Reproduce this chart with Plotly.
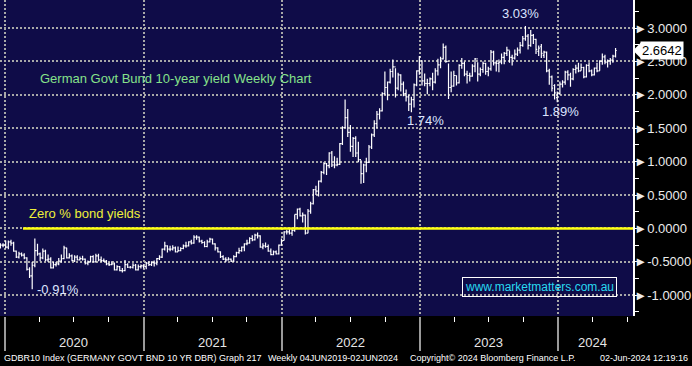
import pandas as pd
import plotly.graph_objects as go

# ---------------- data (weekly OHLC, GDBR10, week ending Fridays from 20-Dec-2019) ----------------
FIRST_WEEK = "2019-12-20"

OPEN = [
    -0.27, -0.25,
    # 2020
    -0.25, -0.28, -0.20, -0.22, -0.34, -0.43, -0.38, -0.40, -0.44, -0.61, -0.71, -0.55, -0.33,
    -0.38, -0.44, -0.34, -0.47, -0.46, -0.59, -0.54, -0.53, -0.49, -0.45, -0.29, -0.44, -0.41,
    -0.48, -0.43, -0.47, -0.45, -0.46, -0.52, -0.50, -0.42, -0.50, -0.41, -0.47, -0.48, -0.49,
    -0.53, -0.54, -0.53, -0.62, -0.57, -0.63, -0.63, -0.54, -0.58, -0.58, -0.55, -0.62, -0.57, -0.56,
    # 2021
    -0.57, -0.52, -0.54, -0.51, -0.52, -0.45, -0.43, -0.31, -0.26, -0.31, -0.31, -0.29, -0.35,
    -0.33, -0.30, -0.26, -0.26, -0.20, -0.22, -0.13, -0.13, -0.19, -0.21, -0.27, -0.20, -0.16,
    -0.23, -0.29, -0.35, -0.42, -0.46, -0.47, -0.46, -0.49, -0.42, -0.36, -0.33, -0.28, -0.23,
    -0.22, -0.15, -0.17, -0.10, -0.11, -0.28, -0.26, -0.27, -0.34, -0.39, -0.35, -0.38, -0.25,
    # 2022
    -0.18, -0.05, -0.05, -0.07, -0.03, 0.21, 0.29, 0.19, 0.20, -0.07, 0.26, 0.37, 0.58,
    0.56, 0.71, 0.84, 0.97, 0.94, 1.13, 0.95, 0.95, 0.96, 1.27, 1.51, 1.66, 1.44,
    1.23, 1.35, 1.13, 1.03, 0.82, 0.95, 0.99, 1.22, 1.40, 1.57, 1.71, 1.76, 2.02,
    2.11, 2.19, 2.35, 2.42, 2.10, 2.30, 2.16, 2.02, 1.97, 1.86, 1.93, 2.15, 2.36,
    # 2023
    2.51, 2.21, 2.17, 2.17, 2.24, 2.19, 2.36, 2.45, 2.54, 2.71, 2.50, 2.11, 2.13,
    2.29, 2.18, 2.44, 2.47, 2.31, 2.29, 2.28, 2.43, 2.54, 2.31, 2.38, 2.47, 2.35,
    2.39, 2.64, 2.48, 2.47, 2.49, 2.56, 2.62, 2.67, 2.56, 2.55, 2.61, 2.67, 2.74,
    2.84, 2.88, 2.74, 2.89, 2.83, 2.65, 2.72, 2.59, 2.64, 2.36, 2.27, 2.14, 1.96,
    # 2024
    2.02, 2.16, 2.19, 2.34, 2.30, 2.24, 2.38, 2.40, 2.36, 2.41, 2.27, 2.44, 2.36,
    2.30, 2.40, 2.36, 2.50, 2.57, 2.49, 2.51, 2.52, 2.58,
]

HIGH = [
    -0.22, -0.22,
    # 2020
    -0.18, -0.18, -0.17, -0.20, -0.33, -0.35, -0.36, -0.37, -0.43, -0.58, -0.50, -0.15, -0.23,
    -0.36, -0.30, -0.32, -0.39, -0.43, -0.50, -0.50, -0.44, -0.39, -0.26, -0.29, -0.37, -0.39,
    -0.40, -0.40, -0.42, -0.41, -0.45, -0.48, -0.41, -0.40, -0.38, -0.38, -0.42, -0.45, -0.47,
    -0.51, -0.49, -0.51, -0.55, -0.56, -0.59, -0.47, -0.52, -0.56, -0.52, -0.53, -0.54, -0.54, -0.54,
    # 2021
    -0.50, -0.49, -0.49, -0.48, -0.44, -0.40, -0.30, -0.20, -0.25, -0.26, -0.25, -0.27, -0.27,
    -0.28, -0.24, -0.20, -0.19, -0.17, -0.10, -0.10, -0.12, -0.17, -0.19, -0.17, -0.14, -0.15,
    -0.22, -0.28, -0.34, -0.40, -0.43, -0.43, -0.45, -0.40, -0.35, -0.29, -0.27, -0.22, -0.17,
    -0.13, -0.10, -0.08, -0.06, -0.10, -0.22, -0.21, -0.24, -0.30, -0.33, -0.33, -0.24, -0.15,
    # 2022
    -0.04, -0.02, 0.00, 0.00, 0.21, 0.30, 0.31, 0.24, 0.21, 0.29, 0.40, 0.59, 0.64,
    0.72, 0.86, 0.99, 0.98, 1.14, 1.16, 1.08, 1.06, 1.28, 1.53, 1.93, 1.79, 1.55,
    1.37, 1.38, 1.30, 1.02, 0.97, 1.06, 1.25, 1.42, 1.62, 1.76, 1.80, 2.04, 2.35,
    2.20, 2.39, 2.53, 2.40, 2.33, 2.31, 2.20, 2.08, 2.00, 1.97, 2.17, 2.37, 2.58,
    # 2023
    2.52, 2.32, 2.24, 2.26, 2.33, 2.40, 2.54, 2.57, 2.77, 2.74, 2.47, 2.35, 2.36,
    2.29, 2.46, 2.55, 2.50, 2.36, 2.33, 2.46, 2.55, 2.49, 2.41, 2.50, 2.48, 2.42,
    2.67, 2.66, 2.51, 2.53, 2.62, 2.64, 2.72, 2.66, 2.60, 2.68, 2.71, 2.79, 2.88,
    3.03, 2.91, 2.97, 2.91, 2.84, 2.74, 2.76, 2.66, 2.65, 2.39, 2.29, 2.16, 2.05,
    # 2024
    2.20, 2.22, 2.36, 2.37, 2.33, 2.40, 2.45, 2.48, 2.47, 2.42, 2.46, 2.49, 2.38,
    2.41, 2.48, 2.52, 2.62, 2.60, 2.53, 2.55, 2.60, 2.70,
]

LOW = [
    -0.30, -0.28,
    # 2020
    -0.30, -0.31, -0.26, -0.35, -0.44, -0.45, -0.42, -0.46, -0.63, -0.74, -0.91, -0.58, -0.41,
    -0.49, -0.46, -0.49, -0.50, -0.60, -0.60, -0.57, -0.55, -0.51, -0.46, -0.45, -0.45, -0.49,
    -0.50, -0.48, -0.48, -0.48, -0.54, -0.55, -0.51, -0.51, -0.51, -0.49, -0.50, -0.50, -0.55,
    -0.56, -0.55, -0.63, -0.63, -0.64, -0.66, -0.64, -0.59, -0.60, -0.60, -0.63, -0.63, -0.60, -0.60,
    # 2021
    -0.61, -0.56, -0.56, -0.57, -0.55, -0.47, -0.44, -0.33, -0.36, -0.34, -0.33, -0.36, -0.35,
    -0.34, -0.31, -0.29, -0.27, -0.24, -0.23, -0.17, -0.21, -0.23, -0.28, -0.28, -0.21, -0.24,
    -0.33, -0.36, -0.44, -0.47, -0.50, -0.48, -0.50, -0.50, -0.43, -0.38, -0.35, -0.34, -0.25,
    -0.23, -0.19, -0.18, -0.15, -0.29, -0.31, -0.29, -0.35, -0.40, -0.40, -0.39, -0.39, -0.26,
    # 2022
    -0.18, -0.09, -0.09, -0.11, -0.05, 0.14, 0.18, 0.09, -0.09, -0.07, 0.22, 0.36, 0.50,
    0.48, 0.69, 0.81, 0.80, 0.90, 0.92, 0.90, 0.93, 0.95, 1.25, 1.50, 1.37, 1.15,
    1.07, 1.07, 0.99, 0.67, 0.68, 0.84, 0.98, 1.19, 1.37, 1.50, 1.63, 1.75, 2.00,
    1.92, 2.17, 2.26, 1.96, 2.07, 2.05, 1.98, 1.90, 1.76, 1.74, 1.81, 2.13, 2.30,
    # 2023
    2.14, 2.13, 2.01, 2.13, 2.07, 2.17, 2.29, 2.40, 2.53, 2.48, 1.94, 2.04, 2.12,
    2.14, 2.17, 2.39, 2.28, 2.17, 2.20, 2.27, 2.34, 2.20, 2.28, 2.33, 2.30, 2.28,
    2.36, 2.44, 2.35, 2.34, 2.46, 2.46, 2.58, 2.48, 2.44, 2.53, 2.58, 2.62, 2.72,
    2.81, 2.68, 2.72, 2.76, 2.61, 2.58, 2.55, 2.55, 2.34, 2.15, 2.05, 1.93, 1.89,
    # 2024
    2.00, 2.11, 2.15, 2.22, 2.12, 2.22, 2.32, 2.34, 2.36, 2.25, 2.26, 2.34, 2.28,
    2.29, 2.34, 2.36, 2.45, 2.46, 2.41, 2.45, 2.48, 2.56,
]

CLOSE = [
    -0.25, -0.25,
    # 2020
    -0.28, -0.20, -0.22, -0.34, -0.43, -0.38, -0.40, -0.44, -0.61, -0.71, -0.55, -0.33, -0.38,
    -0.44, -0.34, -0.47, -0.46, -0.59, -0.54, -0.53, -0.49, -0.45, -0.29, -0.44, -0.41, -0.48,
    -0.43, -0.47, -0.45, -0.46, -0.52, -0.50, -0.42, -0.50, -0.41, -0.47, -0.48, -0.49, -0.53,
    -0.54, -0.53, -0.62, -0.57, -0.63, -0.63, -0.54, -0.58, -0.58, -0.55, -0.62, -0.57, -0.56, -0.57,
    # 2021
    -0.52, -0.54, -0.51, -0.52, -0.45, -0.43, -0.31, -0.26, -0.31, -0.31, -0.29, -0.35, -0.33,
    -0.30, -0.26, -0.26, -0.20, -0.22, -0.13, -0.13, -0.19, -0.21, -0.27, -0.20, -0.16, -0.23,
    -0.29, -0.35, -0.42, -0.46, -0.47, -0.46, -0.49, -0.42, -0.36, -0.33, -0.28, -0.23, -0.22,
    -0.15, -0.17, -0.10, -0.11, -0.28, -0.26, -0.27, -0.34, -0.39, -0.35, -0.38, -0.25, -0.18,
    # 2022
    -0.05, -0.05, -0.07, -0.03, 0.21, 0.29, 0.19, 0.20, -0.07, 0.26, 0.37, 0.58, 0.56,
    0.71, 0.84, 0.97, 0.94, 1.13, 0.95, 0.95, 0.96, 1.27, 1.51, 1.66, 1.44, 1.23,
    1.35, 1.13, 1.03, 0.82, 0.95, 0.99, 1.22, 1.40, 1.57, 1.71, 1.76, 2.02, 2.11,
    2.19, 2.35, 2.42, 2.10, 2.30, 2.16, 2.02, 1.97, 1.86, 1.93, 2.15, 2.36, 2.57,
    # 2023
    2.21, 2.17, 2.17, 2.24, 2.19, 2.36, 2.45, 2.54, 2.71, 2.50, 2.11, 2.13, 2.29,
    2.18, 2.44, 2.47, 2.31, 2.29, 2.28, 2.43, 2.54, 2.31, 2.38, 2.47, 2.35, 2.39,
    2.64, 2.48, 2.47, 2.49, 2.56, 2.62, 2.67, 2.56, 2.55, 2.61, 2.67, 2.74, 2.84,
    2.88, 2.74, 2.89, 2.83, 2.68, 2.70, 2.62, 2.64, 2.36, 2.27, 2.10, 2.03, 2.02,
    # 2024
    2.16, 2.19, 2.34, 2.30, 2.24, 2.38, 2.40, 2.36, 2.41, 2.27, 2.44, 2.36, 2.30,
    2.40, 2.36, 2.50, 2.57, 2.49, 2.51, 2.52, 2.58, 2.6642,
]

LAST_PRICE = 2.6642
Y_TICKS = [-1.0, -0.5, 0.0, 0.5, 1.0, 1.5, 2.0, 2.5, 3.0]
YEAR_STARTS = ["2020-01-01", "2021-01-01", "2022-01-01", "2023-01-01", "2024-01-01"]
YEAR_LABELS = ["2020", "2021", "2022", "2023", "2024"]
YEAR_MIDS = ["2020-07-01", "2021-07-01", "2022-07-01", "2023-07-01", "2024-03-30"]
QUARTERS = ["2020-04-01", "2020-07-01", "2020-10-01", "2021-04-01", "2021-07-01", "2021-10-01",
            "2022-04-01", "2022-07-01", "2022-10-01", "2023-04-01", "2023-07-01", "2023-10-01",
            "2024-04-01", "2024-07-01"]

DATES = pd.date_range(FIRST_WEEK, periods=len(CLOSE), freq="7D")

# ---------------- figure ----------------
W, H = 692, 366
ML, MR, MT, MB = 0, 59, 0, 50
PW, PH = W - ML - MR, H - MT - MB

BG = "#0f0c48"
GRID = "#a8a8a8"
FONT = "Liberation Sans, Arial, sans-serif"

fig = go.Figure()
fig.add_trace(go.Ohlc(
    x=DATES, open=OPEN, high=HIGH, low=LOW, close=CLOSE,
    increasing=dict(line=dict(color="white", width=1.2)),
    decreasing=dict(line=dict(color="white", width=1.2)),
    tickwidth=0.45, hoverinfo="skip", showlegend=False,
))

def px_x(p):
    return p / PW

def px_y(p):
    return 1 - p / PH

ann = []
def txt(text, x, y, color, size=13, xanchor="center", yanchor="middle", **kw):
    ann.append(dict(text=text, x=x, y=y, xref="paper", yref="paper", showarrow=False,
                    xanchor=xanchor, yanchor=yanchor,
                    font=dict(family=FONT, size=size, color=color), **kw))

txt("German Govt Bund 10-year yield Weekly Chart", px_x(38), px_y(78), "#86e28a", xanchor="left")
txt("3.03%", px_x(520), px_y(13), "#dde4ff")
txt("1.74%", px_x(425), px_y(120), "#dde4ff")
txt("1.89%", px_x(560), px_y(111), "#dde4ff")
txt("-0.91%", px_x(58), px_y(289), "#dde4ff")
txt("Zero % bond yields", px_x(85), px_y(213), "#eef03a")
txt("www.marketmatters.com.au", px_x(539), px_y(286.5), "#27d9f0", size=12,
    bordercolor="white", borderwidth=1, borderpad=2)

# year labels under the axis
for lbl, mid in zip(YEAR_LABELS, YEAR_MIDS):
    ann.append(dict(text=lbl, x=mid, y=0, xref="x", yref="paper", showarrow=False,
                    yanchor="middle", yshift=-26,
                    font=dict(family=FONT, size=13, color="#e6e6e6")))

# last price box
ann.append(dict(text="2.6642", x=1, y=LAST_PRICE, xref="paper", yref="y", showarrow=False,
                xanchor="left", yanchor="middle", xshift=7, bgcolor="white", borderpad=1,
                font=dict(family=FONT, size=13, color="black")))

# footer
FOOT = "Liberation Sans, Arial, sans-serif"
foot_y = -(358 - PH) / PH
for t, xp, xa in [("GDBR10 Index (GERMANY GOVT BND 10 YR DBR) Graph 217", 2, "left"),
                  ("Weekly 04JUN2019-02JUN2024", 266, "left"),
                  ("Copyright© 2024 Bloomberg Finance L.P.", 408, "left"),
                  ("02-Jun-2024 12:19:16", 690, "right")]:
    ann.append(dict(text=t, x=xp / PW, y=foot_y, xref="paper", yref="paper", showarrow=False,
                    xanchor=xa, yanchor="middle",
                    font=dict(family=FOOT, size=9, color="white")))

# pointer of the last-price box (tip on the axis at the last value)
ptr_dx = 8 / PW
ptr_dy = 8 / 66.7
pointer = dict(type="path", xref="paper", yref="y",
               path=(f"M 1,{LAST_PRICE} L {1 + ptr_dx},{LAST_PRICE + ptr_dy} "
                     f"L {1 + ptr_dx},{LAST_PRICE - ptr_dy} Z"),
               fillcolor="white", line=dict(width=0), layer="above")

fig.update_layout(
    width=W, height=H,
    margin=dict(l=ML, r=MR, t=MT, b=MB, autoexpand=False),
    paper_bgcolor="black", plot_bgcolor=BG,
    annotations=ann,
    shapes=[dict(type="line", xref="paper", yref="y", x0=px_x(23), x1=1, y0=0, y1=0,
                 line=dict(color="#ffff10", width=2.5)), pointer],
    xaxis=dict(
        type="date", range=["2019-12-19", "2024-07-16"],
        rangeslider=dict(visible=False),
        tickmode="array", tickvals=YEAR_STARTS, showticklabels=False,
        ticks="outside", ticklen=34, tickcolor="#9a9a9a", tickwidth=1.5,
        showgrid=True, gridcolor=GRID, gridwidth=2, griddash="2px,2px",
        minor=dict(tickmode="array", tickvals=QUARTERS, ticks="outside", ticklen=5,
                   tickcolor="white", tickwidth=1, showgrid=False),
        showline=False, zeroline=False, fixedrange=True,
    ),
    yaxis=dict(
        side="right", range=[-1.31, 3.42],
        tickmode="array", tickvals=Y_TICKS,
        ticktext=["►" + f"{v:.4f}" for v in Y_TICKS],
        ticks="", tickfont=dict(family=FONT, size=13, color="#ececec"),
        ticklabelstandoff=-3,
        showgrid=True, gridcolor=GRID, gridwidth=2, griddash="2px,2px",
        minor=dict(tickmode="linear", tick0=0, dtick=0.25, ticks="outside", ticklen=4,
                   tickcolor="white", tickwidth=1, showgrid=False),
        showline=True, linecolor="white", linewidth=1.5,
        zeroline=False, fixedrange=True,
    ),
)

fig.write_html("out.html", config={"displayModeBar": False},
               post_script="document.body.style.margin='0px';document.body.style.background='black';")
